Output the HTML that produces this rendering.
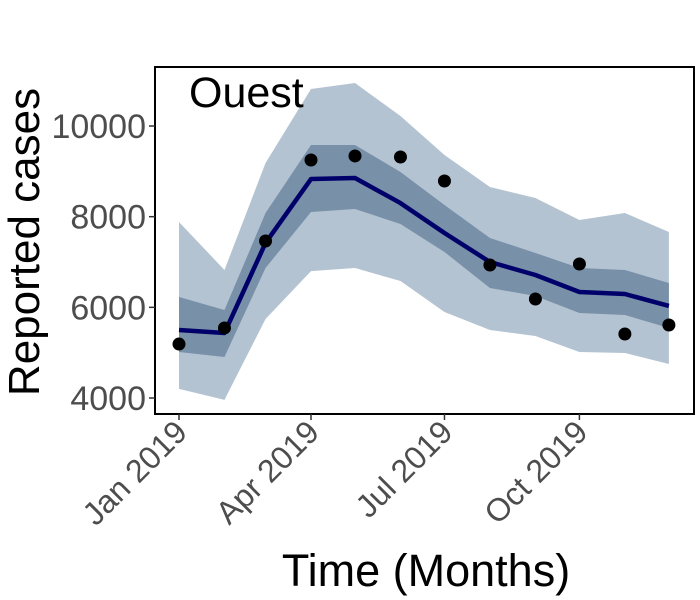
<!DOCTYPE html>
<html><head><meta charset="utf-8"><style>
body{margin:0;background:#fff;}
svg{display:block;font-family:"Liberation Sans",sans-serif;}
</style></head><body>
<svg id="chart" width="700" height="600">
<g id="plot"></g>
</svg>
<script>
const months = ["2019-01-01","2019-02-01","2019-03-01","2019-04-01","2019-05-01","2019-06-01","2019-07-01","2019-08-01","2019-09-01","2019-10-01","2019-11-01","2019-12-01"];
const observed = [5190,5545,7463,9250,9340,9316,8787,6934,6184,6956,5412,5610];
const median = [5500,5434,7420,8830,8853,8300,7640,7000,6713,6338,6294,6030];
const innerUpper = [6228,5941,8081,9581,9581,8986,8258,7530,7200,6868,6824,6537];
const innerLower = [5015,4905,6868,8103,8170,7838,7221,6427,6250,5875,5831,5544];
const outerUpper = [7883,6824,9184,10817,10950,10221,9360,8654,8412,7927,8081,7662];
const outerLower = [4200,3960,5743,6800,6868,6580,5897,5500,5368,5015,4993,4750];
const yTicks = [4000,6000,8000,10000];
const xTickDates = ["2019-01-01","2019-04-01","2019-07-01","2019-10-01"];
const xTickLabels = ["Jan 2019","Apr 2019","Jul 2019","Oct 2019"];

const NS="http://www.w3.org/2000/svg";
const g=document.getElementById('plot');
const t0=Date.parse("2019-01-01");
function x(d){return 179+(Date.parse(d)-t0)/86400000*1.4667;}
function y(v){return 398-(v-4000)*0.04533;}
function mk(tag,attrs,parent){const e=document.createElementNS(NS,tag);for(const k in attrs)e.setAttribute(k,attrs[k]);(parent||g).appendChild(e);return e;}
function band(up,lo,col,name){
  let p=months.map((m,i)=>x(m)+","+y(up[i]));
  p=p.concat(months.map((m,i)=>x(m)+","+y(lo[i])).reverse());
  const e=mk('polygon',{points:p.join(' '),fill:col});
  
  
}
band(outerUpper,outerLower,'#b4c3d2','outer-band');
band(innerUpper,innerLower,'#7890a8','inner-band');
const ln=mk('polyline',{points:months.map((m,i)=>x(m)+","+y(median[i])).join(' '),fill:'none',stroke:'#00006b','stroke-width':4.5,'stroke-linejoin':'round'});


observed.forEach((v,i)=>{
  const c=mk('circle',{cx:x(months[i]),cy:y(v),r:6.5,fill:'#000'});
  
  
});
const tt=mk('text',{x:189,y:107,'font-size':43,fill:'#000'});tt.textContent='Ouest';


const fr=mk('rect',{x:155,y:67,width:539,height:347,fill:'none',stroke:'#000','stroke-width':2});


yTicks.forEach(v=>{
  mk('line',{x1:149,x2:155,y1:y(v),y2:y(v),stroke:'#333','stroke-width':1.5});
  const t=mk('text',{x:146,y:y(v)+12,'font-size':34,fill:'#4d4d4d','text-anchor':'end'});
  t.textContent=v;
  
  
});
xTickDates.forEach((d,i)=>{
  const X=x(d);
  mk('line',{x1:X,x2:X,y1:414,y2:420,stroke:'#333','stroke-width':1.5});
  const t=mk('text',{x:X+10,y:434,'font-size':32,fill:'#4d4d4d','text-anchor':'end',transform:`rotate(-45 ${X+10} 434)`});
  t.textContent=xTickLabels[i];
  
  
});
const yl=mk('text',{x:39,y:242,'font-size':44,fill:'#000','text-anchor':'middle',transform:'rotate(-90 39 242)'});
yl.textContent='Reported cases';


const xl=mk('text',{x:426,y:586,'font-size':45,fill:'#000','text-anchor':'middle'});
xl.textContent='Time (Months)';


</script>
</body></html>
